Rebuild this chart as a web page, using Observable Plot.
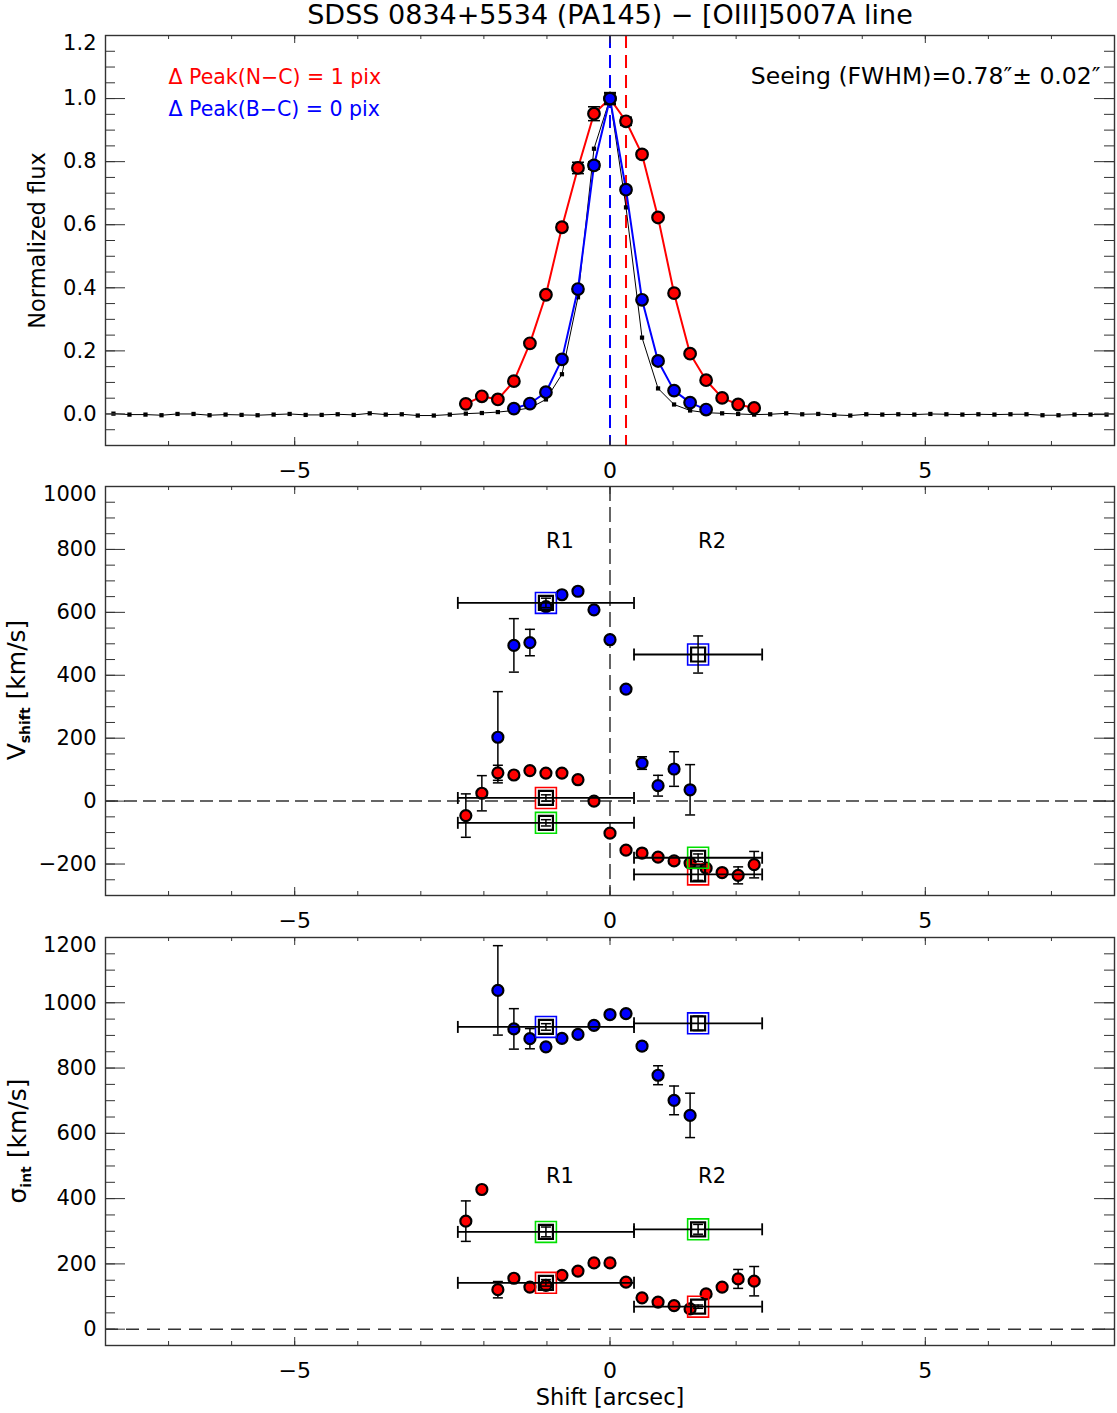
<!DOCTYPE html>
<html>
<head>
<meta charset="utf-8">
<script src="https://cdn.jsdelivr.net/npm/d3@7"></script>
<script src="https://cdn.jsdelivr.net/npm/@observablehq/plot@0.6"></script>
<style>
  body { margin: 0; background: #fff; }
  #chart { position: relative; width: 1117px; height: 1413px; font-family: "DejaVu Sans", sans-serif; }
  #chart svg { position: absolute; left: 0; overflow: visible; }
</style>
</head>
<body>
<div id="chart"></div>
<script>
// ---------- data ----------
const titleText = "SDSS 0834+5534 (PA145) \u2212 [OIII]5007A line";
const pixScale = 0.254;          // arcsec per detector pixel
const peakNC = 1;                // peak offset narrow - continuum (pix)
const peakBC = 0;                // peak offset broad - continuum (pix)
const seeing = 0.78, seeingErr = 0.02;

// Normalized flux profiles (pixel offsets along the slit)
const narrowPix = [-9,-8,-7,-6,-5,-4,-3,-2,-1,0,1,2,3,4,5,6,7,8,9];
const narrowFlux = [0.032,0.056,0.046,0.104,0.224,0.378,0.592,0.780,0.952,1.000,0.928,0.823,0.623,0.383,0.191,0.107,0.051,0.030,0.019];
const narrowFluxErr = [0.004,0.004,0.004,0.005,0.006,0.008,0.010,0.018,0.022,0.015,0.013,0.010,0.008,0.006,0.005,0.004,0.004,0.004,0.004];
const broadPix = [-6,-5,-4,-3,-2,-1,0,1,2,3,4,5,6];
const broadFlux = [0.017,0.033,0.069,0.173,0.396,0.788,1.000,0.711,0.362,0.168,0.074,0.036,0.014];
const broadFluxErr = [0.003,0.004,0.005,0.006,0.008,0.012,0.019,0.010,0.008,0.006,0.004,0.003,0.003];
const contPix = d3.range(-31, 32);
const contFlux = [0.001,-0.002,-0.002,-0.004,0.000,0.000,-0.004,-0.002,-0.003,-0.004,-0.002,0.000,-0.003,-0.003,-0.001,-0.003,0.002,-0.002,-0.001,-0.005,-0.005,-0.002,0.001,0.003,0.006,0.011,0.019,0.046,0.126,0.370,0.841,1.000,0.655,0.242,0.081,0.030,0.011,0.004,0.002,0.000,-0.002,-0.001,0.002,-0.001,0.000,-0.003,-0.005,-0.001,-0.002,-0.001,-0.002,0.000,-0.001,-0.002,-0.001,-0.002,-0.001,-0.001,-0.004,-0.004,-0.002,-0.002,-0.002];

// Velocity shift (km/s)
const vBroadPix = [-7,-6,-5,-4,-3,-2,-1,0,1,2,3,4,5];
const vBroad = [203,495,504,618,656,667,608,513,356,121,49,102,36];
const vBroadErr = [145,85,42,12,10,10,10,10,10,20,33,55,80];
const vNarrowPix = [-9,-8,-7,-6,-5,-4,-3,-2,-1,0,1,2,3,4,5,6,7,8,9];
const vNarrow = [-46,25,90,83,97,89,89,68,0,-102,-156,-165,-178,-190,-197,-213,-227,-236,-202];
const vNarrowErr = [69,56,24,8,8,8,8,8,8,8,8,8,8,8,8,8,8,27,42];

// Intrinsic velocity dispersion (km/s)
const sBroadPix = [-7,-6,-5,-4,-3,-2,-1,0,1,2,3,4,5];
const sBroad = [1038,920,890,865,891,903,931,964,967,867,778,701,655];
const sBroadErr = [137,62,31,10,8,8,8,8,10,12,29,44,68];
const sNarrowPix = [-9,-8,-7,-6,-5,-4,-3,-2,-1,0,1,2,3,4,5,6,7,8,9];
const sNarrow = [331,428,121,156,129,134,165,178,203,203,144,96,83,72,62,108,129,154,147];
const sNarrowErr = [62,8,25,8,8,8,8,8,8,8,8,8,8,8,8,8,10,29,45];

// Integrated regions (pixel edges) and their values
const regionNames = ["R1", "R2"];
const regionEdges = [[-9.5, 1.5], [1.5, 9.5]];
const vRegBroad = [630, 466],  vRegBroadErr = [15, 59];
const vRegNarrow = [10, -233], vRegNarrowErr = [10, 19];
const vRegComp = [-69, -180],  vRegCompErr = [10, 12];
const sRegBroad = [926, 937],  sRegBroadErr = [10, 22];
const sRegComp = [298, 306],   sRegCompErr = [15, 15];
const sRegNarrow = [142, 69],  sRegNarrowErr = [10, 5];

// Axis ticks
const xMajor = [-5, 0, 5];
const xMinor = d3.range(-8, 9, 1);
const fluxMajor = [0, 0.2, 0.4, 0.6, 0.8, 1.0, 1.2];
const fluxMinor = d3.range(-0.1, 1.2001, 0.05);
const vMajor = [-200, 0, 200, 400, 600, 800, 1000];
const vMinor = d3.range(-300, 1001, 50);
const sMajor = [0, 200, 400, 600, 800, 1000, 1200];
const sMinor = d3.range(-50, 1201, 50);

// ---------- helpers ----------
const RED = "#ff0000", BLUE = "#0000ff", GREEN = "#00e000";
const FONT = "DejaVu Sans, sans-serif";
const W = 1117, ML = 105, MR = 3;
const minus = d => d < 0 ? "\u2212" + Math.abs(d) : String(d);

const hcap = {draw(ctx, size) { const r = Math.sqrt(size / Math.PI); ctx.moveTo(-r, 0); ctx.lineTo(r, 0); }};
const vcap = {draw(ctx, size) { const r = Math.sqrt(size / Math.PI); ctx.moveTo(0, -r); ctx.lineTo(0, r); }};

const series = (pix, val, err) => pix.map((p, i) => ({x: p * pixScale, v: val[i], e: err ? err[i] : 0}));
const regions = (val, err) => regionNames.map((name, i) => ({
  name,
  x0: regionEdges[i][0] * pixScale,
  x1: regionEdges[i][1] * pixScale,
  x: (regionEdges[i][0] + regionEdges[i][1]) / 2 * pixScale,
  v: val[i], e: err[i]
}));

function errorBars(data, capR = 5) {
  return [
    Plot.ruleX(data, {x: "x", y1: d => d.v - d.e, y2: d => d.v + d.e, stroke: "black", strokeWidth: 1.5}),
    Plot.dot(data, {x: "x", y: d => d.v + d.e, symbol: hcap, r: capR, stroke: "black", fill: "none", strokeWidth: 1.5}),
    Plot.dot(data, {x: "x", y: d => d.v - d.e, symbol: hcap, r: capR, stroke: "black", fill: "none", strokeWidth: 1.5})
  ];
}
function points(data, color, r = 5.5) {
  return Plot.dot(data, {x: "x", y: "v", r, fill: color, stroke: "black", strokeWidth: 2.2});
}
function regionMarks(data, color) {
  return [
    Plot.dot(data, {x: "x", y: "v", symbol: "square", r: 11.8, stroke: color, fill: "none", strokeWidth: 1.6}),
    Plot.dot(data, {x: "x", y: "v", symbol: "square", r: 7.9, stroke: "black", fill: "none", strokeWidth: 2.2}),
    Plot.ruleY(data, {y: "v", x1: "x0", x2: "x1", stroke: "black", strokeWidth: 1.8}),
    Plot.dot(data, {x: "x0", y: "v", symbol: vcap, r: 6, stroke: "black", fill: "none", strokeWidth: 1.8}),
    Plot.dot(data, {x: "x1", y: "v", symbol: vcap, r: 6, stroke: "black", fill: "none", strokeWidth: 1.8}),
    ...errorBars(data, 5)
  ];
}

function panel({top, height, marginTop, marginBottom, yDomain, yMajor, yMinor, yFormat, marks}) {
  const fh = height - marginTop - marginBottom;
  const fw = W - ML - MR;
  // the label at the very top of the axis is nudged inside the frame
  const yTop = yMajor.filter(d => d >= yDomain[1]);
  const yRest = yMajor.filter(d => d < yDomain[1]);
  const svg = Plot.plot({
    width: W, height, marginLeft: ML, marginRight: MR, marginTop, marginBottom,
    x: {domain: [-8, 8], axis: null},
    y: {domain: yDomain, axis: null},
    style: {fontFamily: FONT, overflow: "visible", background: "transparent", color: "black"},
    marks: [
      ...marks,
      Plot.frame({stroke: "#333", strokeWidth: 1.4}),
      // inward ticks on all four sides
      Plot.tickX(xMinor, {x: d => d, insetTop: fh - 4, stroke: "#333"}),
      Plot.tickX(xMajor, {x: d => d, insetTop: fh - 8, stroke: "#333"}),
      Plot.tickX(xMinor, {x: d => d, insetBottom: fh - 4, stroke: "#333"}),
      Plot.tickX(xMajor, {x: d => d, insetBottom: fh - 8, stroke: "#333"}),
      Plot.tickY(yMinor, {y: d => d, insetRight: fw - 10, stroke: "#333"}),
      Plot.tickY(yMajor, {y: d => d, insetRight: fw - 20, stroke: "#333"}),
      Plot.tickY(yMinor, {y: d => d, insetLeft: fw - 10, stroke: "#333"}),
      Plot.tickY(yMajor, {y: d => d, insetLeft: fw - 20, stroke: "#333"}),
      Plot.text(xMajor, {x: d => d, frameAnchor: "bottom", lineAnchor: "middle", dy: 25, text: minus, fontSize: 22, fill: "black"}),
      Plot.text(yRest, {y: d => d, frameAnchor: "left", lineAnchor: "middle", dx: -9, textAnchor: "end", text: yFormat, fontSize: 21, fill: "black"}),
      Plot.text(yTop, {y: d => d, frameAnchor: "left", lineAnchor: "middle", dx: -9, dy: 8, textAnchor: "end", text: yFormat, fontSize: 21, fill: "black"})
    ]
  });
  svg.style.top = top + "px";
  return svg;
}

const chart = document.getElementById("chart");

// ---------- panel 1: normalized flux ----------
const cont = series(contPix, contFlux);
const narrow = series(narrowPix, narrowFlux, narrowFluxErr);
const broad = series(broadPix, broadFlux, broadFluxErr);

const p1 = panel({
  top: 0, height: 478, marginTop: 35, marginBottom: 33,
  yDomain: [-0.1, 1.2], yMajor: fluxMajor, yMinor: fluxMinor, yFormat: d => d.toFixed(1),
  marks: [
    Plot.ruleX([peakBC * pixScale], {stroke: BLUE, strokeWidth: 2, strokeDasharray: "13,7"}),
    Plot.ruleX([peakNC * pixScale], {stroke: RED, strokeWidth: 2, strokeDasharray: "13,7"}),
    Plot.line(cont, {x: "x", y: "v", stroke: "black", strokeWidth: 1}),
    Plot.dot(cont, {x: "x", y: "v", symbol: "square", r: 2.4, fill: "black"}),
    Plot.line(narrow, {x: "x", y: "v", stroke: RED, strokeWidth: 2}),
    ...errorBars(narrow, 6),
    points(narrow, RED, 5.8),
    Plot.line(broad, {x: "x", y: "v", stroke: BLUE, strokeWidth: 2}),
    ...errorBars(broad, 6),
    points(broad, BLUE, 5.8),
    Plot.text([titleText], {frameAnchor: "top", lineAnchor: "middle", dy: -20, fontSize: 27, fill: "black"}),
    Plot.text([`\u0394 Peak(N\u2212C) = ${peakNC} pix`], {frameAnchor: "top-left", lineAnchor: "middle", dx: 63, dy: 42, textAnchor: "start", fontSize: 20.5, fill: RED}),
    Plot.text([`\u0394 Peak(B\u2212C) = ${peakBC} pix`], {frameAnchor: "top-left", lineAnchor: "middle", dx: 63, dy: 74, textAnchor: "start", fontSize: 20.5, fill: BLUE}),
    Plot.text([`Seeing (FWHM)=${seeing.toFixed(2)}\u2033\u00b1 ${seeingErr.toFixed(2)}\u2033`], {frameAnchor: "top-right", lineAnchor: "middle", dx: -14, dy: 41, textAnchor: "end", fontSize: 23.5, fill: "black"}),
    Plot.text(["Normalized flux"], {frameAnchor: "left", lineAnchor: "middle", textAnchor: "middle", dx: -68, rotate: -90, fontSize: 22.5, fill: "black"})
  ]
});
chart.appendChild(p1);

// ---------- panel 2: velocity shift ----------
const vB = series(vBroadPix, vBroad, vBroadErr);
const vN = series(vNarrowPix, vNarrow, vNarrowErr);
const p2 = panel({
  top: 478, height: 452, marginTop: 8, marginBottom: 35,
  yDomain: [-300, 1000], yMajor: vMajor, yMinor: vMinor, yFormat: minus,
  marks: [
    Plot.ruleY([0], {stroke: "#333", strokeWidth: 1.5, strokeDasharray: "13,6"}),
    Plot.ruleX([0], {stroke: "#333", strokeWidth: 1.5, strokeDasharray: "15,6"}),
    ...errorBars(vB), points(vB, BLUE),
    ...errorBars(vN), points(vN, RED),
    ...regionMarks(regions(vRegBroad, vRegBroadErr), BLUE),
    ...regionMarks(regions(vRegNarrow, vRegNarrowErr), RED),
    ...regionMarks(regions(vRegComp, vRegCompErr), GREEN),
    Plot.text(regions(vRegBroad, vRegBroadErr), {x: "x", y: () => 825, text: "name", textAnchor: "start", fontSize: 21, fill: "black"})
  ]
});
chart.appendChild(p2);

// ---------- panel 3: intrinsic dispersion ----------
const sB = series(sBroadPix, sBroad, sBroadErr);
const sN = series(sNarrowPix, sNarrow, sNarrowErr);
const p3 = panel({
  top: 930, height: 483, marginTop: 7, marginBottom: 68,
  yDomain: [-50, 1200], yMajor: sMajor, yMinor: sMinor, yFormat: minus,
  marks: [
    Plot.ruleY([0], {stroke: "#333", strokeWidth: 1.5, strokeDasharray: "13,8"}),
    ...errorBars(sB), points(sB, BLUE),
    ...errorBars(sN), points(sN, RED),
    ...regionMarks(regions(sRegBroad, sRegBroadErr), BLUE),
    ...regionMarks(regions(sRegComp, sRegCompErr), GREEN),
    ...regionMarks(regions(sRegNarrow, sRegNarrowErr), RED),
    Plot.text(regions(sRegBroad, sRegBroadErr), {x: "x", y: () => 470, text: "name", textAnchor: "start", fontSize: 21, fill: "black"}),
    Plot.text(["Shift [arcsec]"], {frameAnchor: "bottom", lineAnchor: "middle", dy: 52, fontSize: 22.5, fill: "black"})
  ]
});
chart.appendChild(p3);

// y-axis titles with subscripts
function yTitle(svg, x, y, main, sub, rest) {
  const t = d3.select(svg).append("text")
    .attr("transform", `translate(${x},${y}) rotate(-90)`)
    .attr("text-anchor", "middle")
    .attr("font-family", FONT)
    .attr("font-size", 25)
    .attr("fill", "black");
  t.append("tspan").text(main);
  t.append("tspan").attr("dy", 5).attr("font-size", 14).attr("font-weight", "bold").text(sub);
  t.append("tspan").attr("dy", -5).text(rest);
}
yTitle(p2, 25, 212, "V", "shift", " [km/s]");
yTitle(p3, 26, 211, "\u03c3", "int", " [km/s]");
</script>
</body>
</html>
